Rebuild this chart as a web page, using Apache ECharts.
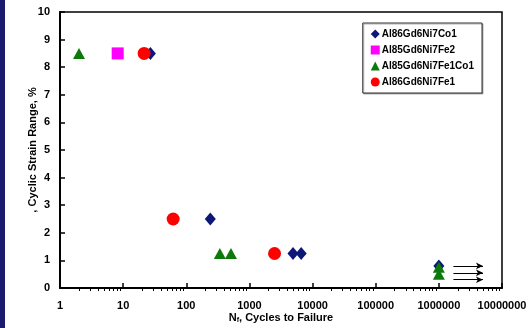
<!DOCTYPE html>
<html><head><meta charset="utf-8">
<script src="https://cdn.jsdelivr.net/npm/echarts@6/dist/echarts.min.js"></script>
<style>html,body{margin:0;padding:0;background:#fff}#c{width:532px;height:328px}</style>
</head><body><div id="c"></div>
<script>
const seriesNames = ['Al86Gd6Ni7Co1','Al85Gd6Ni7Fe2','Al85Gd6Ni7Fe1Co1','Al86Gd6Ni7Fe1'];
const co1Cycles = [27, 240, 4900, 6600, 1000000];
const co1Strain = [8.5, 2.5, 1.25, 1.25, 0.8];
const fe2Cycles = [8.2];
const fe2Strain = [8.5];
const fe1co1Cycles = [2, 340, 510, 1000000, 1000000];
const fe1co1Strain = [8.5, 1.25, 1.25, 0.75, 0.5];
const fe1Cycles = [21.5, 62, 2500];
const fe1Strain = [8.5, 2.5, 1.25];
const runoutStart = [1700000, 1700000, 1700000];
const runoutEnd = [5000000, 5000000, 5000000];
const runoutStrain = [0.8, 0.55, 0.3];
const xTicks = ['1','10','100','1000','10000','100000','1000000','10000000'];

const zip = (a,b)=>a.map((v,i)=>[v,b[i]]);
const font = 'Liberation Sans, Arial, sans-serif';
const chart = echarts.init(document.getElementById('c'));
chart.setOption({
  animation:false,
  backgroundColor:'#fff',
  graphic:[{type:'rect',shape:{x:0,y:0,width:5,height:328},style:{fill:'#1a1a6e'}}],
  grid:{left:60,right:30,top:12,bottom:40,show:true,borderColor:'#000',borderWidth:1.5,containLabel:false,outerBoundsMode:'none'},
  legend:{
    orient:'vertical', right:50, top:23, padding:[6,8,6,8],
    backgroundColor:'#fff', borderColor:'#333', borderWidth:1,
    itemWidth:9, itemHeight:9, itemGap:6,
    textStyle:{fontFamily:font,fontWeight:'bold',fontSize:10,color:'#000',padding:[0,0,0,-3]},
    shadowColor:'rgba(0,0,0,0.3)', shadowOffsetX:1, shadowOffsetY:1,
    data:seriesNames
  },
  xAxis:{
    type:'log', logBase:10, min:1, max:10000000,
    name:'N{sub|f}, Cycles to Failure', nameLocation:'middle', nameGap:23, nameMoveOverlap:false,
    nameTextStyle:{fontFamily:font,fontWeight:'bold',fontSize:11,color:'#000',
      rich:{sub:{fontFamily:font,fontWeight:'bold',fontSize:7,color:'#000',verticalAlign:'bottom',padding:[6,0,0,0]}}},
    axisLine:{lineStyle:{color:'#000',width:2}},
    axisTick:{inside:true,length:5,lineStyle:{color:'#000',width:1.5}},
    minorTick:{show:true,splitNumber:9,length:-3,lineStyle:{color:'#000'}},
    splitLine:{show:false},
    axisLabel:{fontFamily:font,fontWeight:'bold',fontSize:11,color:'#000',margin:12,
      formatter:v=>{const i=Math.round(Math.log10(v));return xTicks[i]!==undefined?xTicks[i]:'';}}
  },
  yAxis:{
    type:'value', min:0, max:10, interval:1,
    name:', Cyclic Strain Range, %', nameLocation:'middle', nameGap:22, nameMoveOverlap:false,
    nameTextStyle:{fontFamily:font,fontWeight:'bold',fontSize:11,color:'#000'},
    axisLine:{lineStyle:{color:'#000',width:2}},
    axisTick:{inside:true,length:5,lineStyle:{color:'#000',width:1.5}},
    splitLine:{show:false},
    axisLabel:{fontFamily:font,fontWeight:'bold',fontSize:11,color:'#000',margin:10}
  },
  series:[
    {name:seriesNames[0],type:'scatter',symbol:'diamond',symbolSize:[11,13],itemStyle:{color:'#0d1778',opacity:1},data:zip(co1Cycles,co1Strain),z:2},
    {name:seriesNames[1],type:'scatter',symbol:'rect',symbolSize:12,itemStyle:{color:'#ff00ff',opacity:1},data:zip(fe2Cycles,fe2Strain)},
    {name:seriesNames[2],type:'scatter',symbol:'triangle',symbolSize:[12,11],itemStyle:{color:'#0b7a0b',opacity:1},data:zip(fe1co1Cycles,fe1co1Strain),z:3},
    {name:seriesNames[3],type:'scatter',symbol:'circle',symbolSize:13,itemStyle:{color:'#ff0000',opacity:1},data:zip(fe1Cycles,fe1Strain),z:4},
    {type:'scatter',data:[],silent:true,
      markLine:{silent:true,symbol:['none','arrow'],symbolSize:[5,7],label:{show:false},
        lineStyle:{color:'#000',width:1,type:'solid'},
        data:runoutStrain.map((s,i)=>[{coord:[runoutStart[i],s]},{coord:[runoutEnd[i],s]}])}}
  ]
});
</script></body></html>
